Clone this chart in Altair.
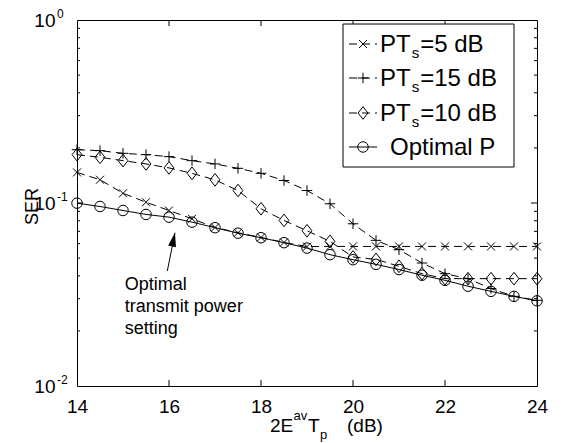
import altair as alt
import pandas as pd

# ---------------- data ----------------
x_db = [14.0, 14.5, 15.0, 15.5, 16.0, 16.5, 17.0, 17.5, 18.0, 18.5, 19.0,
        19.5, 20.0, 20.5, 21.0, 21.5, 22.0, 22.5, 23.0, 23.5, 24.0]
ser_pt5 = [0.147, 0.134, 0.113, 0.101, 0.091, 0.082, 0.0735, 0.0688, 0.0648, 0.0609, 0.0578,
           0.0579, 0.0579, 0.0579, 0.0579, 0.0579, 0.0579, 0.0579, 0.0579, 0.0579, 0.0579]
ser_pt15 = [0.1956, 0.1932, 0.1868, 0.1837, 0.1792, 0.1704, 0.1635, 0.1547, 0.1453, 0.1327, 0.1170,
            0.0990, 0.0770, 0.0625, 0.0556, 0.0470, 0.0411, 0.0386, 0.0341, 0.0309, 0.0294]
ser_pt10 = [0.1837, 0.1777, 0.1704, 0.1635, 0.1555, 0.1453, 0.1338, 0.1170, 0.0930, 0.0803, 0.0705,
            0.0617, 0.0507, 0.0492, 0.0451, 0.0411, 0.0386, 0.0386, 0.0386, 0.0386, 0.0386]
ser_opt = [0.0998, 0.0957, 0.0910, 0.0866, 0.0837, 0.0786, 0.0733, 0.0684, 0.0646, 0.0607, 0.0567,
           0.0522, 0.0490, 0.0462, 0.0433, 0.0403, 0.0378, 0.0351, 0.0329, 0.0309, 0.0292]

x_ticks = [14, 16, 18, 20, 22, 24]
y_ticks = [0.01, 0.1, 1]
y_exponents = ["-2", "-1", "0"]
legend_main = ["PT", "PT", "PT", "Optimal P"]
legend_sub = ["s", "s", "s", ""]
legend_rest = ["=5 dB", "=15 dB", "=10 dB", ""]
annot_lines = ["Optimal", "transmit power", "setting"]

# ---------------- style ----------------
FONT = "Liberation Sans"
W, H = 460, 366
DASH = [8, 5]
SHAPE_PLUS = "M-1,0L1,0M0,-1L0,1"
SHAPE_X = "M-1,-1L1,1M-1,1L1,-1"
SHAPE_DIAMOND = "M0,-1L0.78,0L0,1L-0.78,0Z"
SHAPE_ARROW = "M0,0L0.57,2L-0.57,2Z"

x_scale = alt.Scale(domain=[14, 24], nice=False, zero=False)
y_scale = alt.Scale(type="log", domain=[0.01, 1], nice=False)

x_axis = alt.Axis(values=x_ticks, format="d", labelFont=FONT, labelFontSize=19,
                  labelColor="black", ticks=False, domain=False, grid=False,
                  labelPadding=11, labelFlush=False, labelOverlap=False, title=None)
y_axis = alt.Axis(values=y_ticks, labelExpr="'10'", labelFont=FONT, labelFontSize=19,
                  labelColor="black", ticks=False, domain=False, grid=False,
                  labelPadding=22, labelFlush=False, labelOverlap=False,
                  title="SER", titleFont=FONT, titleFontSize=18, titleFontWeight="normal",
                  titleColor="black", titleAngle=-90, titleX=-40, titleY=186,
                  titleAlign="center", titleBaseline="alphabetic")


def X(field):
    return alt.X(field, scale=x_scale, axis=x_axis)


def Y(field):
    return alt.Y(field, scale=y_scale, axis=y_axis)


one = pd.DataFrame({"a": [0]})


def series_layers(vals, shape, size, dash):
    d = pd.DataFrame({"x": x_db, "ser": vals})
    lkw = dict(color="black", strokeWidth=1)
    if dash:
        lkw["strokeDash"] = dash
    line = alt.Chart(d).mark_line(**lkw).encode(x=X("x:Q"), y=Y("ser:Q"))
    pts = alt.Chart(d).mark_point(shape=shape, size=size, filled=False, color="black",
                                  strokeWidth=1, opacity=1).encode(x=X("x:Q"), y=Y("ser:Q"))
    return [line, pts]


layers = []
layers += series_layers(ser_opt, "circle", 110, None)
layers += series_layers(ser_pt5, SHAPE_X, 64, DASH)
layers += series_layers(ser_pt15, SHAPE_PLUS, 110, DASH)
layers += series_layers(ser_pt10, SHAPE_DIAMOND, 160, DASH)

# ---- inward ticks (MATLAB box style) ----
xt = pd.DataFrame({"t": x_ticks[1:-1]})
for y0, y1 in [(H, H - 6), (0, 6)]:
    layers.append(alt.Chart(xt).mark_rule(color="black", strokeWidth=1).encode(
        x=X("t:Q"), y=alt.value(y0), y2=alt.value(y1)))
yt_major = pd.DataFrame({"v": [0.1]})
yt_minor = pd.DataFrame({"v": [k * e for e in (0.01, 0.1) for k in range(2, 10)]})
for dfv, ln in [(yt_major, 6), (yt_minor, 3)]:
    for x0, x1 in [(0, ln), (W - ln, W)]:
        layers.append(alt.Chart(dfv).mark_rule(color="black", strokeWidth=1).encode(
            y=Y("v:Q"), x=alt.value(x0), x2=alt.value(x1)))

# ---- y tick exponents ----
exp_df = pd.DataFrame({"v": y_ticks, "e": y_exponents})
layers.append(alt.Chart(exp_df).mark_text(align="left", baseline="middle", font=FONT,
                                          fontSize=12, dy=-6.5, color="black").encode(
    x=alt.value(-20), y=Y("v:Q"), text="e:N"))

# ---- x axis title: 2E^{av}T_p  (dB) ----
xt_parts = [("2E", 193, 412, 19), ("av", 216.5, 400, 13), ("T", 231, 412, 19),
            ("p", 243, 419, 13), ("(dB)", 270, 412, 19)]
for txt, px, py, fs in xt_parts:
    layers.append(alt.Chart(one).mark_text(text=txt, align="left", baseline="alphabetic",
                                           font=FONT, fontSize=fs, color="black").encode(
        x=alt.value(px), y=alt.value(py)))

# ---- annotation arrow and text ----
arrow_df = pd.DataFrame({"x": [15.963], "x2": [16.13], "y": [0.0425], "y2": [0.0688]})
layers.append(alt.Chart(arrow_df).mark_rule(color="black", strokeWidth=1).encode(
    x=X("x:Q"), x2="x2:Q", y=Y("y:Q"), y2="y2:Q"))
layers.append(alt.Chart(arrow_df).mark_point(shape=SHAPE_ARROW, size=196, filled=True,
                                             color="black", opacity=1, angle=12).encode(
    x=X("x2:Q"), y=Y("y2:Q")))
ann_df = pd.DataFrame({"x": [15.04] * 3, "y": [0.03346, 0.02537, 0.01924], "t": annot_lines})
layers.append(alt.Chart(ann_df).mark_text(align="left", baseline="alphabetic", font=FONT,
                                          fontSize=18, color="black").encode(
    x=X("x:Q"), y=Y("y:Q"), text="t:N"))

# ---- legend (drawn by hand for the subscripts) ----
LX0, LX1, LY0, LY1 = 266, 437, 4, 147
layers.append(alt.Chart(one).mark_rect(fill="white", stroke="black", strokeWidth=1).encode(
    x=alt.value(LX0), x2=alt.value(LX1), y=alt.value(LY0), y2=alt.value(LY1)))
row_y = [24, 58, 93, 127]
leg_style = [(SHAPE_X, 64, DASH), (SHAPE_PLUS, 110, DASH), (SHAPE_DIAMOND, 160, DASH),
             ("circle", 110, None)]
LF, SF = 24, 15
for i, ry in enumerate(row_y):
    shape, size, dash = leg_style[i]
    rkw = dict(color="black", strokeWidth=1)
    if dash:
        rkw["strokeDash"] = dash
    layers.append(alt.Chart(one).mark_rule(**rkw).encode(
        x=alt.value(272), x2=alt.value(300), y=alt.value(ry)))
    layers.append(alt.Chart(one).mark_point(shape=shape, size=size, filled=False,
                                            color="black", opacity=1, strokeWidth=1).encode(
        x=alt.value(286), y=alt.value(ry)))
    tx = 303 if legend_sub[i] else 313
    layers.append(alt.Chart(one).mark_text(text=legend_main[i], align="left",
                                           baseline="alphabetic", font=FONT, fontSize=LF,
                                           color="black").encode(
        x=alt.value(tx), y=alt.value(ry + 8)))
    if legend_sub[i]:
        sx = tx + 1.278 * LF + 1
        layers.append(alt.Chart(one).mark_text(text=legend_sub[i], align="left",
                                               baseline="alphabetic", font=FONT, fontSize=SF,
                                               color="black").encode(
            x=alt.value(sx), y=alt.value(ry + 14)))
        rx = sx + 0.5 * SF + 1
        layers.append(alt.Chart(one).mark_text(text=legend_rest[i], align="left",
                                               baseline="alphabetic", font=FONT, fontSize=LF,
                                               color="black").encode(
            x=alt.value(rx), y=alt.value(ry + 8)))

chart = alt.layer(*layers).properties(
    width=W, height=H,
    padding={"left": 69, "top": 12, "right": 25, "bottom": 57},
    autosize=alt.AutoSizeParams(type="none"),
    background="white",
).configure_view(stroke="black", strokeWidth=1)

chart.save("out.html", embed_options={"renderer": "svg", "actions": False})
